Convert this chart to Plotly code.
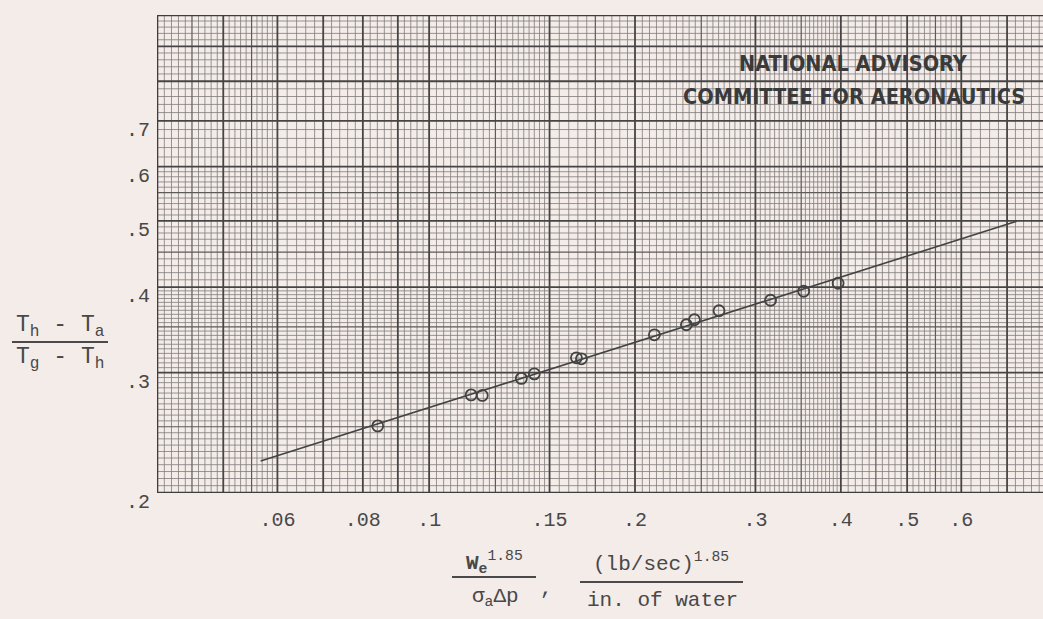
import math
import plotly.graph_objects as go

# Measured points: abscissa We^1.85/(sigma_a*dp), ordinate (Th-Ta)/(Tg-Th)
flow_param = [0.0841, 0.1152, 0.1196, 0.1364, 0.1425, 0.1642, 0.1670,
              0.2135, 0.2378, 0.2443, 0.2654, 0.3157, 0.3529, 0.3963]
temp_ratio = [0.2507, 0.2783, 0.2778, 0.2942, 0.2987, 0.3153, 0.3142,
              0.3407, 0.3524, 0.3584, 0.3694, 0.3827, 0.3945, 0.4053]

# Faired straight line (log-log) through the data
fair_x = [0.0567, 0.723]
fair_y = [0.2228, 0.4992]

x_tick_vals = [0.06, 0.08, 0.1, 0.15, 0.2, 0.3, 0.4, 0.5, 0.6]
x_tick_text = [".06", ".08", ".1", ".15", ".2", ".3", ".4", ".5", ".6"]
y_tick_vals = [0.2, 0.3, 0.4, 0.5, 0.6, 0.7]
y_tick_text = [".2", ".3", ".4", ".5", ".6", ".7"]

W, H = 1043, 619
L, R, T, B = 157, 0, 15, 126
PX_PER_DEC = (H - T - B) / math.log10(5.0)
X_MIN = 0.04
X_MAX = 10 ** (math.log10(X_MIN) + (W - L - R) / PX_PER_DEC)
Y_MIN, Y_MAX = 0.2, 1.0

PAPER = "#f3ece8"
INK = "#434343"
FONT_MONO = "Liberation Mono, DejaVu Sans Mono, monospace"


def graph_paper_lines(lo, hi):
    """Return (heavy, medium, fine) rule positions of log graph paper in [lo, hi]."""
    heavy, medium, fine = set(), set(), set()
    steps = [(1.0, 1.5, 0.025), (1.5, 2.0, 0.05), (2.0, 4.0, 0.05),
             (4.0, 6.0, 0.1), (6.0, 10.0, 0.2)]
    heavy_m = [1, 1.5, 2, 3, 4, 5, 6, 7, 8, 9, 10]
    medium_m = [1.25, 1.75, 2.5, 3.5, 4.5, 5.5]
    for dec in range(-3, 2):
        base = 10.0 ** dec
        for a, b, s in steps:
            n = int(round((b - a) / s))
            for k in range(n + 1):
                fine.add(round((a + k * s) * base, 10))
        for m in heavy_m:
            heavy.add(round(m * base, 10))
        for m in medium_m:
            medium.add(round(m * base, 10))
    eps = 1e-9
    keep = lambda s: sorted(v for v in s if lo - eps <= v <= hi * 1.3)
    h = keep(heavy)
    m = [v for v in keep(medium) if v not in heavy]
    f = [v for v in keep(fine) if v not in heavy and v not in medium]
    return h, m, f


def vlines(vals):
    xs, ys = [], []
    for v in vals:
        xs += [v, v, None]
        ys += [Y_MIN, Y_MAX, None]
    return xs, ys


def hlines(vals):
    xs, ys = [], []
    for v in vals:
        xs += [X_MIN, 2.0, None]
        ys += [v, v, None]
    return xs, ys


fig = go.Figure()

xh, xm, xf = graph_paper_lines(X_MIN, X_MAX)
yh, ym, yf = graph_paper_lines(Y_MIN, Y_MAX)

for (vals_x, vals_y, width, color) in [
    (xf, yf, 0.8, "#807c7b"),
    (xm, ym, 1.2, "#5c5a5a"),
    (xh, yh, 1.8, "#464444"),
]:
    vx, vy = vlines(vals_x)
    hx, hy = hlines([v for v in vals_y if v <= Y_MAX + 1e-9])
    fig.add_trace(go.Scatter(x=vx + hx, y=vy + hy, mode="lines",
                             line=dict(color=color, width=width),
                             hoverinfo="skip", showlegend=False))

# heavier outer border of the ruled area
fig.add_trace(go.Scatter(x=[X_MIN, X_MIN, None, X_MIN, 2.0, None, X_MIN, 2.0],
                         y=[Y_MIN, Y_MAX, None, Y_MAX, Y_MAX, None, Y_MIN, Y_MIN],
                         mode="lines", line=dict(color="#3e3e3e", width=2.6),
                         hoverinfo="skip", showlegend=False, cliponaxis=False))

fig.add_trace(go.Scatter(x=fair_x, y=fair_y, mode="lines",
                         line=dict(color=INK, width=1.6),
                         hoverinfo="skip", showlegend=False))

fig.add_trace(go.Scatter(x=flow_param, y=temp_ratio, mode="markers",
                         marker=dict(symbol="circle-open", size=11,
                                     color=INK, line=dict(width=1.8, color=INK)),
                         showlegend=False))

fig.update_xaxes(type="log", range=[math.log10(X_MIN), math.log10(X_MAX)],
                 showgrid=False, zeroline=False, showline=False, ticks="",
                 tickmode="array", tickvals=x_tick_vals, ticktext=x_tick_text,
                 tickfont=dict(family=FONT_MONO, size=20, color="#484848"),
                 ticklabelstandoff=12)
fig.update_yaxes(type="log", range=[math.log10(Y_MIN), math.log10(Y_MAX)],
                 showgrid=False, zeroline=False, showline=False, ticks="",
                 tickmode="array", tickvals=y_tick_vals, ticktext=y_tick_text,
                 tickfont=dict(family=FONT_MONO, size=20, color="#484848"),
                 ticklabelstandoff=6, ticklabelshift=8)


def px(x):
    return (x - L) / (W - L - R)


def py(y):
    return (H - B - y) / (H - T - B)


ann = []
txt = dict(family=FONT_MONO, size=21, color="#484848")
ytxt = dict(family=FONT_MONO, size=23, color="#484848")
# ordinate label as a fraction
ann.append(dict(x=px(60), y=py(327), font=ytxt,
                text="T<sub>h</sub>\u00a0-\u00a0T<sub>a</sub>"))
ann.append(dict(x=px(60), y=py(358), font=ytxt,
                text="T<sub>g</sub>\u00a0-\u00a0T<sub>h</sub>"))
# abscissa label
ann.append(dict(x=px(494), y=py(562), text="<b>W<sub>e</sub></b><sup>1.85</sup>"))
ann.append(dict(x=px(495), y=py(598), text="σ<sub>a</sub>Δp"))
ann.append(dict(x=px(546), y=py(588), text=","))
ann.append(dict(x=px(661), y=py(562), text="(lb/sec)<sup>1.85</sup>"))
ann.append(dict(x=px(662), y=py(600), text="in. of water"))
for a in ann:
    a.setdefault("font", txt)
    a.update(xref="paper", yref="paper", showarrow=False,
             xanchor="center", yanchor="middle")

stamp = dict(family="Liberation Sans Narrow, DejaVu Sans Condensed, Arial Narrow, sans-serif",
             size=21.5, color="#3a3a3a")
for (cx, cy, label) in [(853, 63, "NATIONAL ADVISORY"),
                        (854, 97, "COMMITTEE FOR AERONAUTICS")]:
    ann.append(dict(x=px(cx), y=py(cy), text="<b>" + label + "</b>",
                    xref="paper", yref="paper", showarrow=False, font=stamp,
                    xanchor="center", yanchor="middle"))

shapes = []
for (x0, x1, yy) in [(12, 108, 342), (452, 536, 577), (580, 743, 582)]:
    shapes.append(dict(type="line", xref="paper", yref="paper",
                       x0=px(x0), x1=px(x1), y0=py(yy), y1=py(yy),
                       line=dict(color="#4a4a4a", width=1.8)))

fig.update_layout(width=W, height=H, margin=dict(l=L, r=R, t=T, b=B),
                  paper_bgcolor=PAPER, plot_bgcolor=PAPER,
                  annotations=ann, shapes=shapes, showlegend=False)

fig.write_html("out.html")
